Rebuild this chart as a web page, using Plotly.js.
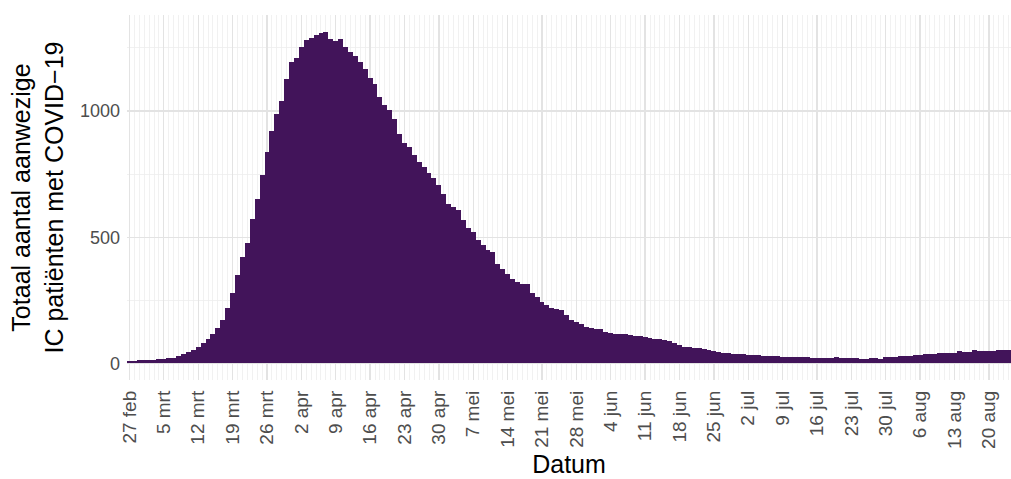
<!DOCTYPE html>
<html>
<head>
<meta charset="utf-8">
<script src="https://cdn.plot.ly/plotly-3.0.1.min.js"></script>
<style>html,body{margin:0;padding:0;background:#fff;}#chart{width:1011px;height:479px;}</style>
</head>
<body>
<div id="chart"></div>
<script>
// First day of the series (27 feb 2020); one bar per day
const startDate = '2020-02-27';
// Total IC patients with COVID-19 present, per day
const icPatients = [
  8, 8, 12, 12, 14, 15, 16, 17, 20, 23,
  28, 37, 44, 53, 66, 79, 95, 116, 139, 172,
  218, 278, 351, 423, 476, 571, 651, 747, 836, 923,
  989, 1038, 1126, 1196, 1209, 1252, 1282, 1290, 1302, 1311,
  1315, 1284, 1279, 1284, 1255, 1235, 1218, 1196, 1165, 1130,
  1107, 1054, 1026, 1006, 967, 911, 872, 856, 825, 799,
  779, 755, 733, 706, 671, 631, 618, 607, 568, 538,
  521, 488, 468, 448, 442, 395, 376, 353, 336, 323,
  316, 313, 279, 263, 243, 230, 221, 217, 210, 191,
  173, 164, 155, 144, 142, 138, 135, 124, 120, 118,
  117, 115, 114, 110, 107, 104, 100, 98, 96, 94,
  88, 80, 72, 66, 64, 62, 60, 58, 54, 50,
  47, 43, 40, 38, 37, 36, 35, 33, 32, 31,
  30, 29, 28, 27, 26, 25, 25, 24, 24, 23,
  23, 23, 22, 23, 24, 23, 22, 21, 20, 17,
  17, 21, 21, 17, 24, 25, 26, 28, 30, 31,
  32, 34, 36, 37, 38, 40, 41, 42, 43, 49,
  45, 46, 54, 51, 51, 50, 51, 55, 52, 52
];
// Weekly x tick positions and their Dutch labels
const tickDates = ['2020-02-27','2020-03-05','2020-03-12','2020-03-19','2020-03-26','2020-04-02','2020-04-09','2020-04-16','2020-04-23','2020-04-30','2020-05-07','2020-05-14','2020-05-21','2020-05-28','2020-06-04','2020-06-11','2020-06-18','2020-06-25','2020-07-02','2020-07-09','2020-07-16','2020-07-23','2020-07-30','2020-08-06','2020-08-13','2020-08-20'];
const tickLabels = ['27 feb','5 mrt','12 mrt','19 mrt','26 mrt','2 apr','9 apr','16 apr','23 apr','30 apr','7 mei','14 mei','21 mei','28 mei','4 jun','11 jun','18 jun','25 jun','2 jul','9 jul','16 jul','23 jul','30 jul','6 aug','13 aug','20 aug'];
const yTickVals = [0, 500, 1000];
const yTickLabels = ['0', '500', '1000'];

function dayString(i) {
  const d = new Date(startDate + 'T00:00:00Z');
  d.setUTCDate(d.getUTCDate() + i);
  return d.toISOString().slice(0, 10);
}
const dates = icPatients.map((_, i) => dayString(i));

const trace = {
  type: 'bar',
  x: dates,
  y: icPatients,
  marker: {color: '#42145a', line: {width: 0}},
  hoverinfo: 'x+y'
};

const layout = {
  width: 1011,
  height: 479,
  margin: {l: 127, r: 0, t: 15, b: 99},
  paper_bgcolor: '#ffffff',
  plot_bgcolor: '#ffffff',
  bargap: 0,
  showlegend: false,
  font: {family: 'Liberation Sans, Arial, sans-serif', color: '#4d4d4d'},
  xaxis: {
    type: 'date',
    range: ['2020-02-26 12:00', '2020-08-24 12:00'],
    tickmode: 'array',
    tickvals: tickDates,
    ticktext: tickLabels,
    tickangle: -90,
    tickfont: {size: 19, color: '#4d4d4d'},
    ticks: '',
    ticklabelstandoff: 6,
    showgrid: true,
    gridcolor: '#e3e3e3',
    gridwidth: 1.3,
    minor: {dtick: 86400000, tick0: '2020-02-27', showgrid: true, gridcolor: '#eeeeee', gridwidth: 0.8},
    zeroline: false,
    showline: false,
    title: {text: 'Datum', font: {size: 25, color: '#000000'}, standoff: 7}
  },
  yaxis: {
    range: [-65.75, 1380.75],
    tickmode: 'array',
    tickvals: yTickVals,
    ticktext: yTickLabels,
    tickfont: {size: 18, color: '#4d4d4d'},
    ticks: '',
    ticklabelstandoff: 6,
    showgrid: true,
    gridcolor: '#e3e3e3',
    gridwidth: 1.3,
    minor: {dtick: 250, tick0: 0, showgrid: true, gridcolor: '#eeeeee', gridwidth: 0.8},
    zeroline: false,
    showline: false,
    title: {text: 'Totaal aantal aanwezige<br>IC patiënten met COVID\u221219', font: {size: 25, color: '#000000'}, standoff: 9}
  }
};

Plotly.newPlot('chart', [trace], layout, {displayModeBar: false, staticPlot: true});
</script>
</body>
</html>
